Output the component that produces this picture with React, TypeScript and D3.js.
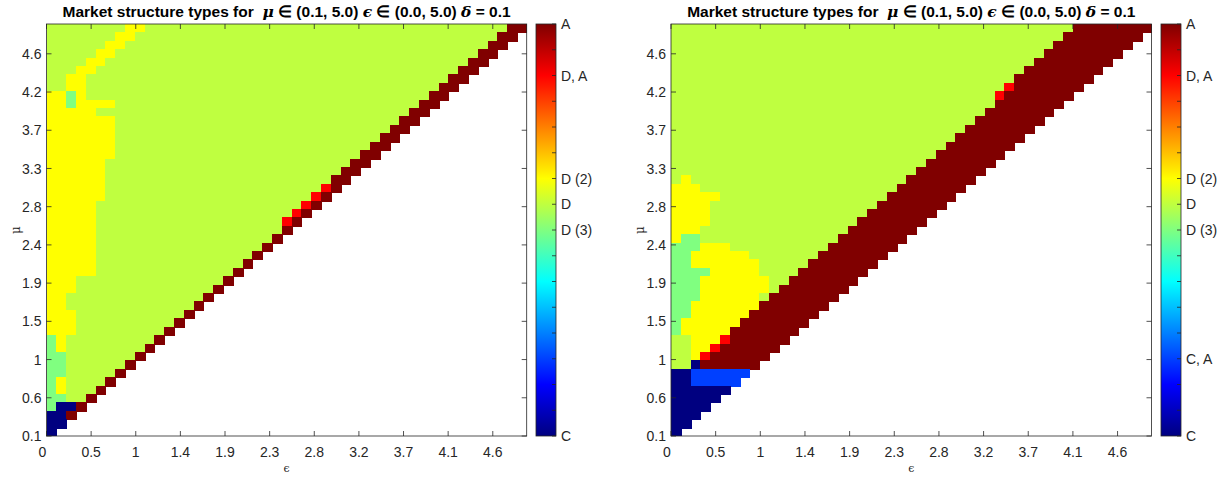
import { useEffect, useRef } from 'react';
import * as d3 from 'd3';

// colour value of each market structure code on the colorbar (0..16)
const codeValues: Record<string, number> = { C: 0, B: 3, G: 8, D: 9, Y: 10, R: 14, A: 16 };
// C = C, B = "C, A", G = "D (3)", D = D, Y = "D (2)", R = "D, A", A = A ; unlisted cells are empty

// rows from top (mu = 5.0) to bottom (mu = 0.1), run-length: code + count
const leftRows = [
  'D8 Y2 D37 A2', 'D7 Y2 D37 A2', 'D6 Y2 D37 A2', 'D5 Y2 D37 A2', 'D4 Y2 D37 A2',
  'D3 Y2 D37 A2', 'D2 Y2 D37 A2', 'D2 Y2 D36 A2', 'Y2 G1 Y1 D35 A2', 'Y2 G1 Y4 D31 A2',
  'Y5 D32 A2', 'Y7 D29 A2', 'Y7 D28 A2', 'Y7 D27 A2', 'Y7 D26 A2',
  'Y7 D25 A2', 'Y6 D25 A2', 'Y6 D24 A2', 'Y6 D23 A2', 'Y6 D22 R1 A1',
  'Y6 D21 R1 A1', 'Y5 D21 R1 A1', 'Y5 D20 R1 A1', 'Y5 D19 R1 A1', 'Y5 D19 A1',
  'Y5 D18 A1', 'Y5 D17 A1', 'Y5 D16 A1', 'Y5 D15 A1', 'Y5 D14 A1',
  'Y3 D15 A1', 'Y3 D14 A1', 'Y2 D14 A1', 'Y2 D13 A1', 'Y3 D11 A1',
  'Y3 D10 A1', 'Y3 D9 A1', 'G1 Y1 D9 A1', 'G1 Y1 D8 A1', 'G2 D7 A1',
  'G2 D6 A1', 'G2 D5 A1', 'G1 Y1 D4 A1', 'G1 Y1 D3 A1', 'G2 D2 A1',
  'G1 C2 A1', 'C2 A1', 'C2', 'C1',
];

const rightRows = [
  'D41 A8', 'D40 A8', 'D39 A8', 'D38 A8', 'D37 A8',
  'D36 A8', 'D35 A8', 'D34 R1 A7', 'D33 R1 A7', 'D33 A7',
  'D32 A7', 'D31 A7', 'D30 A7', 'D29 A7', 'D28 A7',
  'D27 A7', 'D26 A7', 'D25 A7', 'D1 Y1 D22 A7', 'Y3 D20 A7',
  'Y5 D17 A7', 'Y4 D17 A7', 'Y4 D16 A7', 'Y4 D15 A7', 'Y3 D15 A7',
  'Y1 G2 D14 A7', 'G3 Y3 D10 A7', 'G2 Y6 D7 A7', 'G2 Y7 D5 A7', 'G4 Y5 D4 A7',
  'G3 Y7 D2 A7', 'G3 Y7 D1 A7', 'G3 Y6 D1 A7', 'G2 Y7 A7', 'G2 Y6 A7',
  'G1 Y6 A7', 'G1 Y5 A7', 'D2 Y3 R1 A6', 'D2 Y2 R1 A6', 'D2 Y1 R1 A6',
  'D2 C1 A6', 'C2 B6', 'C2 B5', 'C6', 'C5',
  'C4', 'C3', 'C2', 'C1',
];

const xTickLabels = ['0', '0.5', '1', '1.4', '1.9', '2.3', '2.8', '3.2', '3.7', '4.1', '4.6'];
const yTickLabels = ['0.1', '0.6', '1', '1.5', '1.9', '2.4', '2.8', '3.3', '3.7', '4.2', '4.6'];

const leftBarTicks = [16, 14, 10, 9, 8, 0];
const leftBarLabels = ['A', 'D, A', 'D (2)', 'D', 'D (3)', 'C'];
const rightBarTicks = [16, 14, 10, 9, 8, 3, 0];
const rightBarLabels = ['A', 'D, A', 'D (2)', 'D', 'D (3)', 'C, A', 'C'];

const NCOL = 49;

const decodeRow = (s: string): string[] => {
  const out: string[] = [];
  s.split(' ').forEach(tok => {
    const n = +tok.slice(1);
    for (let i = 0; i < n; i++) out.push(tok[0]);
  });
  while (out.length < NCOL) out.push('.');
  return out;
};

const jet = (t: number) => {
  const c = (v: number) => Math.max(0, Math.min(1, v)) * 255;
  return d3.rgb(c(1.5 - Math.abs(4 * t - 3)), c(1.5 - Math.abs(4 * t - 2)), c(1.5 - Math.abs(4 * t - 1))).formatHex();
};

const App = () => {
  const svgRef = useRef<SVGSVGElement>(null);

  useEffect(() => {
    const width = 1224;
    const height = 479;
    const top = 24;
    const bottom = 436;
    const font = '"Liberation Sans", Arial, sans-serif';
    const axisColor = '#262626';

    const svg = d3.select(svgRef.current)
      .attr('width', width)
      .attr('height', height)
      .style('background-color', '#ffffff');

    svg.selectAll('*').remove();

    const defs = svg.append('defs');
    const grad = defs.append('linearGradient')
      .attr('id', 'jetGrad')
      .attr('x1', 0).attr('y1', 1).attr('x2', 0).attr('y2', 0);
    d3.range(0, 1.0001, 0.025).forEach(t => {
      grad.append('stop').attr('offset', t).attr('stop-color', jet(t));
    });

    const colorValue = d3.scaleLinear().domain([0, 16]).range([0, 1]);

    const panels = [
      { rows: leftRows, x0: 46.5, x1: 526.7, barX: 536, barTicks: leftBarTicks, barLabels: leftBarLabels },
      { rows: rightRows, x0: 671, x1: 1151.5, barX: 1161, barTicks: rightBarTicks, barLabels: rightBarLabels },
    ];

    panels.forEach(p => {
      const g = svg.append('g');
      const grid = p.rows.map(decodeRow);

      const xBand = d3.scaleBand<number>().domain(d3.range(NCOL)).range([p.x0, p.x1]);
      const yBand = d3.scaleBand<number>().domain(d3.range(grid.length)).range([top, bottom]);

      // heatmap cells
      const cells = g.append('g').attr('shape-rendering', 'crispEdges');
      grid.forEach((row, i) => {
        cells.selectAll(null)
          .data(row.map((code, j) => ({ code, j })).filter(d => d.code !== '.'))
          .enter()
          .append('rect')
          .attr('x', d => xBand(d.j)!)
          .attr('y', yBand(i)!)
          .attr('width', d => (d.j === NCOL - 1 ? xBand.bandwidth() : xBand.bandwidth() + 1))
          .attr('height', i === grid.length - 1 ? yBand.bandwidth() : yBand.bandwidth() + 1)
          .attr('fill', d => jet(colorValue(codeValues[d.code])));
      });

      // tick positions
      const xTick = d3.scaleLinear().domain([0, 10.76]).range([p.x0, p.x1]);
      const yTick = d3.scaleLinear().domain([0, 10.78]).range([bottom, top]);

      // box
      g.append('rect')
        .attr('x', p.x0).attr('y', top)
        .attr('width', p.x1 - p.x0).attr('height', bottom - top)
        .attr('fill', 'none').attr('stroke', axisColor).attr('stroke-width', 0.8);

      xTickLabels.forEach((lab, i) => {
        const x = xTick(i);
        g.append('line').attr('x1', x).attr('x2', x).attr('y1', bottom).attr('y2', bottom - 5)
          .attr('stroke', axisColor).attr('stroke-width', 0.8);
        g.append('line').attr('x1', x).attr('x2', x).attr('y1', top).attr('y2', top + 5)
          .attr('stroke', axisColor).attr('stroke-width', 0.8);
        g.append('text')
          .attr('x', i === 0 ? x - 4 : x).attr('y', 457)
          .attr('text-anchor', 'middle')
          .style('font-family', font).style('font-size', '14px').style('fill', axisColor)
          .text(lab);
      });

      yTickLabels.forEach((lab, i) => {
        const y = yTick(i);
        g.append('line').attr('x1', p.x0).attr('x2', p.x0 + 5).attr('y1', y).attr('y2', y)
          .attr('stroke', axisColor).attr('stroke-width', 0.8);
        g.append('line').attr('x1', p.x1).attr('x2', p.x1 - 5).attr('y1', y).attr('y2', y)
          .attr('stroke', axisColor).attr('stroke-width', 0.8);
        g.append('text')
          .attr('x', p.x0 - 5).attr('y', y).attr('dy', '0.36em')
          .attr('text-anchor', 'end')
          .style('font-family', font).style('font-size', '14px').style('fill', axisColor)
          .text(lab);
      });

      // axis labels
      g.append('text')
        .attr('x', (p.x0 + p.x1) / 2).attr('y', 472)
        .attr('text-anchor', 'middle')
        .style('font-family', '"DejaVu Serif", serif').style('font-size', '11px').style('fill', axisColor)
        .text('ϵ');
      g.append('text')
        .attr('transform', `translate(${p.x0 - 27},${(top + bottom) / 2})rotate(-90)`)
        .attr('text-anchor', 'middle')
        .style('font-family', '"DejaVu Serif", serif').style('font-size', '12px').style('fill', axisColor)
        .text('μ');

      // title
      const title = g.append('text')
        .attr('x', (p.x0 + p.x1) / 2).attr('y', 17)
        .attr('text-anchor', 'middle')
        .style('font-family', font).style('font-size', '15.5px').style('font-weight', 'bold')
        .style('fill', '#000');
      const parts: [string, boolean][] = [
        ['Market structure types for\u00a0\u00a0', false], ['μ', true], [' ∈ (0.1, 5.0) ', false],
        ['ϵ', true], [' ∈ (0.0, 5.0) ', false], ['δ', true], [' = 0.1', false],
      ];
      parts.forEach(([txt, greek]) => {
        const t = title.append('tspan').text(txt);
        if (greek) t.style('font-family', '"DejaVu Serif", serif').style('font-style', 'italic');
      });

      // colorbar
      const barW = 20;
      const barScale = d3.scaleLinear().domain([0, 16]).range([bottom, top]);
      g.append('rect')
        .attr('x', p.barX).attr('y', top).attr('width', barW).attr('height', bottom - top)
        .attr('fill', 'url(#jetGrad)').attr('stroke', axisColor).attr('stroke-width', 0.8);
      d3.range(0, 17).forEach(v => {
        g.append('line')
          .attr('x1', p.barX + barW).attr('x2', p.barX + barW - 4)
          .attr('y1', barScale(v)).attr('y2', barScale(v))
          .attr('stroke', axisColor).attr('stroke-width', 0.8);
      });
      p.barTicks.forEach((v, i) => {
        g.append('text')
          .attr('x', p.barX + barW + 5).attr('y', barScale(v)).attr('dy', '0.36em')
          .style('font-family', font).style('font-size', '14px').style('fill', axisColor)
          .text(p.barLabels[i]);
      });
    });
  }, []);

  return <svg ref={svgRef} style={{ position: 'absolute', left: 0, top: 0 }}></svg>;
};

export default App;
